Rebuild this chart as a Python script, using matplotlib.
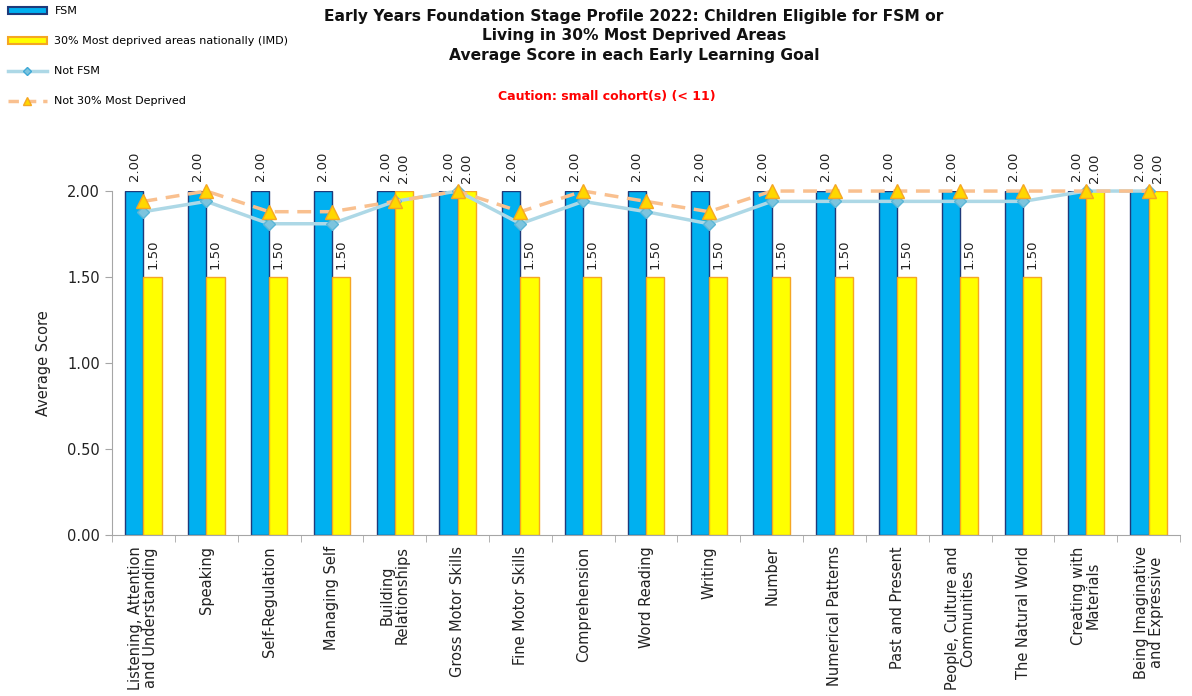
import matplotlib.pyplot as plt
import numpy as np
from matplotlib.lines import Line2D
from matplotlib.patches import Patch

categories = [
    "Listening, Attention\nand Understanding", "Speaking", "Self-Regulation",
    "Managing Self", "Building\nRelationships", "Gross Motor Skills",
    "Fine Motor Skills", "Comprehension", "Word Reading", "Writing", "Number",
    "Numerical Patterns", "Past and Present", "People, Culture and\nCommunities",
    "The Natural World", "Creating with\nMaterials", "Being Imaginative\nand Expressive",
]
fsm = [2.00] * 17
imd = [1.50, 1.50, 1.50, 1.50, 2.00, 2.00, 1.50, 1.50, 1.50, 1.50, 1.50,
       1.50, 1.50, 1.50, 1.50, 2.00, 2.00]
not_fsm = [1.88, 1.94, 1.81, 1.81, 1.94, 2.00, 1.81, 1.94, 1.88, 1.81, 1.94,
           1.94, 1.94, 1.94, 1.94, 2.00, 2.00]
not_imd = [1.94, 2.00, 1.88, 1.88, 1.94, 2.00, 1.88, 2.00, 1.94, 1.88, 2.00,
           2.00, 2.00, 2.00, 2.00, 2.00, 2.00]

BLUE = "#00B0F0"
BLUE_EDGE = "#1F3A7A"
YELLOW = "#FFFF00"
YELLOW_EDGE = "#F5A623"
LINE_BLUE = "#ADD8E6"
LINE_PEACH = "#F9C08F"
GREY = "#A6A6A6"
TXT = "#222222"

fig = plt.figure(figsize=(11.92, 6.96), dpi=100)
ax = fig.add_axes([0.094, 0.231, 0.896, 0.4945])

x = np.arange(len(categories))
w = 0.29
b1 = ax.bar(x - w / 2, fsm, w, color=BLUE, edgecolor=BLUE_EDGE, linewidth=1, zorder=2)
b2 = ax.bar(x + w / 2, imd, w, color=YELLOW, edgecolor=YELLOW_EDGE, linewidth=1, zorder=2)
ax.bar_label(b1, fmt="%.2f", rotation=90, padding=7, fontsize=9.5, color=TXT)
ax.bar_label(b2, fmt="%.2f", rotation=90, padding=6, fontsize=9.5, color=TXT)

ax.plot(x, not_fsm, color=LINE_BLUE, linewidth=2.5, marker="D", markersize=6,
        markerfacecolor="#7CC4DE", markeredgecolor="#5BB6D6", zorder=3, clip_on=False)
ax.plot(x, not_imd, color=LINE_PEACH, linewidth=2.5, linestyle=(0, (4, 2.5)),
        marker="^", markersize=10, markerfacecolor="#FFD700",
        markeredgecolor="#F5A623", zorder=4, clip_on=False)

ax.set_xlim(-0.5, len(categories) - 0.5)
ax.set_ylim(0, 2.0)
ax.set_yticks([0, 0.5, 1.0, 1.5, 2.0])
ax.set_yticklabels([f"{v:.2f}" for v in [0, 0.5, 1.0, 1.5, 2.0]], fontsize=10.5, color=TXT)
ax.set_xticks(x)
ax.set_xticklabels(categories, rotation=90, fontsize=10.5, color=TXT, ha="center", va="top",
                   multialignment="center", linespacing=1.0)
ax.set_xticks(np.arange(len(categories) + 1) - 0.5, minor=True)
ax.tick_params(axis="x", which="major", length=0, pad=8)
ax.tick_params(axis="x", which="minor", length=5, color=GREY)
ax.tick_params(axis="y", length=5, color=GREY)
ax.set_ylabel("Average Score", fontsize=10.5, color=TXT, labelpad=12)

for s in ["top", "right"]:
    ax.spines[s].set_visible(False)
for s in ["left", "bottom"]:
    ax.spines[s].set_color(GREY)

fig.text(0.532, 0.987, "Early Years Foundation Stage Profile 2022: Children Eligible for FSM or\n"
         "Living in 30% Most Deprived Areas\nAverage Score in each Early Learning Goal",
         ha="center", va="top", fontsize=11.2, fontweight="bold", color="#111111",
         linespacing=1.37)
fig.text(0.509, 0.861, "Caution: small cohort(s) (< 11)", ha="center", va="center",
         fontsize=9, fontweight="bold", color="#FF0000")

handles = [
    Patch(facecolor=BLUE, edgecolor=BLUE_EDGE, linewidth=1.5),
    Patch(facecolor=YELLOW, edgecolor=YELLOW_EDGE, linewidth=1.5),
    Line2D([], [], color=LINE_BLUE, linewidth=2.5, marker="D", markersize=4,
           markerfacecolor="#7CC4DE", markeredgecolor="#3FA9D6"),
    Line2D([], [], color=LINE_PEACH, linewidth=2.5, linestyle=(0, (3, 2)), marker="^",
           markersize=6, markerfacecolor="#FFD700", markeredgecolor="#F5A623"),
]
labels = ["FSM", "30% Most deprived areas nationally (IMD)", "Not FSM", "Not 30% Most Deprived"]
fig.legend(handles, labels, loc="upper left", bbox_to_anchor=(0.0, 1.002), frameon=False,
           fontsize=8, labelspacing=1.8, handlelength=3.5, handleheight=0.5,
           handletextpad=0.7, borderaxespad=0.3)

fig.savefig("out.png", dpi=100)
